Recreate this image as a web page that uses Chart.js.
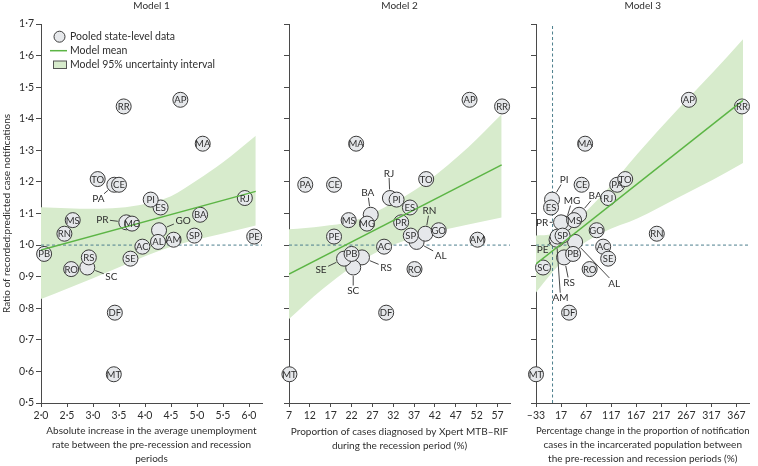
<!DOCTYPE html>
<html><head><meta charset="utf-8">
<script src="https://cdn.jsdelivr.net/npm/chart.js@4.4.1/dist/chart.umd.min.js"></script>
<style>
html,body{margin:0;padding:0;background:#fff;}
#wrap{position:relative;width:758px;height:466px;overflow:hidden;}
#wrap canvas{position:absolute;left:0;top:0;}
</style></head><body>
<div id="wrap">
<canvas id="c1" width="758" height="466"></canvas>
<canvas id="c2" width="758" height="466"></canvas>
<canvas id="c3" width="758" height="466"></canvas>
</div>
<script>
// ---------------- DATA ----------------
const states = ['AC','AL','AM','AP','BA','CE','DF','ES','GO','MA','MG','MS','MT','PA','PB','PE','PI','PR','RJ','RN','RO','RR','RS','SC','SE','SP','TO'];
const ratio = [0.995,1.010,1.017,1.460,1.096,1.191,0.786,1.119,1.047,1.321,1.068,1.079,0.591,1.191,0.972,1.027,1.144,1.072,1.149,1.036,0.924,1.439,0.961,0.929,0.957,1.030,1.209];
const unemploymentIncrease = [3.95,4.25,4.55,4.68,5.06,3.50,3.42,4.30,4.27,5.11,3.75,2.61,3.40,3.41,2.06,6.10,4.11,3.64,5.92,2.45,2.58,3.59,2.92,2.89,3.72,4.95,3.09];
const xpertProportion = [29.8,37.6,52.2,50.3,26.6,17.8,30.3,36.0,42.9,23.1,25.7,21.3,7.1,10.9,22.0,17.8,32.8,33.9,31.2,39.7,37.1,58.1,24.5,22.4,20.2,36.2,39.9];
const prisonChange = [101,45,8,272,53,58,33,-3,88,65,25,43,-33,129,41,10,-1,17,111,208,74,378,23,-19,111,20,145];

const yTicks = [0.5,0.6,0.7,0.8,0.9,1.0,1.1,1.2,1.3,1.4,1.5,1.6,1.7];
const xTicks1 = [2.0,2.5,3.0,3.5,4.0,4.5,5.0,5.5,6.0];
const xTicks2 = [7,12,17,22,27,32,37,42,47,52,57];
const xTicks3 = [-33,17,67,117,167,217,267,317,367];

// model mean and 95% uncertainty interval
const band1X = [2.0,2.5,3.0,3.5,4.0,4.5,5.0,5.5,6.13];
const band1Lower = [0.829,0.862,0.895,0.930,0.965,0.995,1.018,1.037,1.062];
const band1Upper = [1.120,1.117,1.115,1.118,1.130,1.155,1.205,1.262,1.346];
const mean1X = [2.0,6.13];
const mean1Y = [0.984,1.170];

const band2X = [7,15,22,30,40,50,58];
const band2Lower = [0.766,0.860,0.930,0.990,1.035,1.065,1.087];
const band2Upper = [1.050,1.060,1.075,1.120,1.200,1.310,1.414];
const mean2X = [7,58];
const mean2Y = [0.908,1.254];

const band3X = [-33,0,40,100,170,250,320,380];
const band3Lower = [0.850,0.915,0.980,1.040,1.085,1.150,1.207,1.260];
const band3Upper = [1.030,1.035,1.070,1.160,1.290,1.430,1.547,1.652];
const mean3X = [-33,380];
const mean3Y = [0.940,1.458];

const referenceRatio = 1.0;
const referenceChange = 0;

const panelTitles = ['Model 1','Model 2','Model 3'];
const xTitles = [
  ['Absolute increase in the average unemployment','rate between the pre-recession and recession','periods'],
  ['Proportion of cases diagnosed by Xpert MTB\u2013RIF','during the recession period (%)'],
  ['Percentage change in the proportion of notification','cases in the incarcerated population between','the pre-recession and recession periods (%)']
];
const yTitle = 'Ratio of recorded:predicted case notifications';
const legendLabels = ['Pooled state-level data','Model mean','Model 95% uncertainty interval'];

// ---------------- STYLE / LAYOUT ----------------
const FONT = 'Lato, "Open Sans", sans-serif';
const TXT = '#2e2e2e';
const AXIS = '#4a4a4a';
const GREEN = '#5cb545';
const BAND = 'rgb(215,235,204)';
const DASH = '#4d7f8d';
const CIRCLE_FILL = '#e6e8eb';
const CIRCLE_EDGE = '#3a3a3a';
const R = 8;

Chart.defaults.font.family = FONT;
Chart.defaults.color = TXT;

// label offsets (px) for states labelled outside their circle
const labelOffsets = [
  {PA:[-16,14], PR:[-24,-3], GO:[24,-10], SC:[24,9]},
  {RJ:[-1,-25], BA:[-3,-22], RN:[4,-23], AL:[24,13], SE:[-23,11], RS:[24,10], SC:[0,23]},
  {PI:[12,-20], MG:[7,-23], BA:[16,-19], PR:[-19,0], PE:[-15,13], AM:[4,58], RS:[5,25], AL:[39,41]}
];

const layouts = [
  {padL:0,   yW:41, padR:496, xMin:2.0, xMax:6.25, xTicks:xTicks1, fmt:v=>v.toFixed(1).replace('.','\u00b7'), titlePad:0},
  {padL:283, yW:6,  padR:248, xMin:7,   xMax:60,   xTicks:xTicks2, fmt:v=>String(v), titlePad:13},
  {padL:530, yW:6,  padR:3,   xMin:-33, xMax:393,  xTicks:xTicks3, fmt:v=>String(v).replace('-','\u2013'), titlePad:0}
];
const yFmt = v => v.toFixed(1).replace('.','\u00b7');

const statePlugin = {
  id:'stateLabels',
  afterDatasetsDraw(chart){
    const ctx = chart.ctx;
    ctx.save();
    chart.data.datasets.forEach((ds, di) => {
      if (!ds.isStates) return;
      const meta = chart.getDatasetMeta(di);
      meta.data.forEach((el, i) => {
        const s = ds.data[i].s;
        const off = ds.offsets[s];
        ctx.fillStyle = TXT;
        ctx.textAlign = 'center';
        ctx.textBaseline = 'middle';
        if (!off) {
          ctx.font = '9.5px ' + FONT;
          ctx.fillText(s, el.x, el.y + 0.5);
        } else {
          ctx.font = '10px ' + FONT;
          const lx = el.x + off[0], ly = el.y + off[1];
          const w = ctx.measureText(s).width;
          const L = Math.hypot(off[0], off[1]);
          const ux = off[0]/L, uy = off[1]/L;
          const t = Math.min((w/2+1.5)/Math.max(Math.abs(ux),1e-6), (5)/Math.max(Math.abs(uy),1e-6));
          ctx.strokeStyle = '#333';
          ctx.lineWidth = 0.9;
          ctx.beginPath();
          ctx.moveTo(el.x + ux*(R+0.5), el.y + uy*(R+0.5));
          ctx.lineTo(lx - ux*t, ly - uy*t);
          ctx.stroke();
          ctx.fillText(s, lx, ly + 0.5);
        }
      });
    });
    ctx.restore();
  }
};

const titlePlugin = {
  id:'panelTitle',
  afterDraw(chart){
    const ca = chart.chartArea, ctx = chart.ctx;
    ctx.save();
    ctx.font = '10px ' + FONT;
    ctx.fillStyle = TXT;
    ctx.textAlign = 'center';
    ctx.textBaseline = 'middle';
    ctx.fillText(chart.options.plugins.panelTitle.text, (ca.left+ca.right)/2, 6);
    ctx.restore();
  }
};

const legendPlugin = {
  id:'insideLegend',
  afterDraw(chart){
    const ca = chart.chartArea, ctx = chart.ctx;
    const x0 = ca.left, y0 = ca.top;
    ctx.save();
    ctx.font = '10.5px ' + FONT;
    ctx.fillStyle = TXT;
    ctx.textAlign = 'left';
    ctx.textBaseline = 'middle';
    ctx.beginPath();
    ctx.arc(x0+18.5, y0+12.7, 5.5, 0, Math.PI*2);
    ctx.fillStyle = CIRCLE_FILL; ctx.fill();
    ctx.strokeStyle = CIRCLE_EDGE; ctx.lineWidth = 1; ctx.stroke();
    ctx.fillStyle = TXT;
    ctx.fillText(legendLabels[0], x0+29, y0+12.7);
    ctx.beginPath();
    ctx.moveTo(x0+9, y0+26.7); ctx.lineTo(x0+26, y0+26.7);
    ctx.strokeStyle = GREEN; ctx.lineWidth = 1.5; ctx.stroke();
    ctx.fillText(legendLabels[1], x0+29, y0+26.7);
    ctx.fillStyle = BAND;
    ctx.fillRect(x0+12.5, y0+37, 13, 7.5);
    ctx.strokeStyle = '#555'; ctx.lineWidth = 1;
    ctx.strokeRect(x0+12.5, y0+37, 13, 7.5);
    ctx.fillStyle = TXT;
    ctx.fillText(legendLabels[2], x0+29, y0+40.7);
    ctx.restore();
  }
};

function pts(xs, ys){ return xs.map((x,i)=>({x:x, y:ys[i]})); }

function makeChart(idx, canvasId, xValues, bandX, bandLo, bandHi, meanX, meanY){
  const L = layouts[idx];
  const offs = labelOffsets[idx];
  const all = states.map((s,i)=>({x:xValues[i], y:ratio[i], s:s}));
  const behind = all.filter(p => offs[p.s]);
  const front = all.filter(p => !offs[p.s]);
  const circleStyle = {type:'scatter', pointRadius:R-0.5, pointHoverRadius:R-0.5, pointBackgroundColor:CIRCLE_FILL,
    pointBorderColor:CIRCLE_EDGE, pointBorderWidth:1, clip:false, isStates:true, offsets:offs, showLine:false};
  const datasets = [
    Object.assign({data:front, order:2}, circleStyle),
    Object.assign({data:behind, order:3}, circleStyle),
    {type:'line', data:pts(meanX, meanY), borderColor:GREEN, borderWidth:1.5, pointRadius:0, fill:false, order:1, tension:0},
    {type:'line', data:[{x:L.xMin,y:referenceRatio},{x:L.xMax,y:referenceRatio}], borderColor:DASH, borderWidth:1, borderDash:[3,2.5], pointRadius:0, fill:false, order:4},
    {type:'line', data:pts(bandX, bandLo), borderWidth:0, borderColor:'rgba(0,0,0,0)', pointRadius:0, fill:false, order:6, cubicInterpolationMode:'monotone'},
    {type:'line', data:pts(bandX, bandHi), borderWidth:0, borderColor:'rgba(0,0,0,0)', backgroundColor:BAND, pointRadius:0, fill:'-1', order:5, cubicInterpolationMode:'monotone'}
  ];
  if (idx === 2) {
    datasets.push({type:'line', data:[{x:referenceChange,y:yTicks[0]},{x:referenceChange,y:yTicks[yTicks.length-1]}], borderColor:DASH, borderWidth:1, borderDash:[3,2.5], pointRadius:0, fill:false, order:4});
  }
  const plugins = [statePlugin, titlePlugin];
  if (idx === 0) plugins.push(legendPlugin);
  return new Chart(document.getElementById(canvasId), {
    type:'scatter',
    data:{datasets},
    plugins,
    options:{
      responsive:false, animation:false, devicePixelRatio:1, events:[],
      layout:{padding:{left:L.padL, right:L.padR, top:24, bottom:0}},
      plugins:{legend:{display:false}, tooltip:{enabled:false}, panelTitle:{text:panelTitles[idx]}},
      scales:{
        x:{type:'linear', min:L.xMin, max:L.xMax,
          afterBuildTicks: s => { s.ticks = L.xTicks.map(v=>({value:v})); },
          afterFit: s => { s.height = 63; },
          ticks:{callback: v => L.fmt(v), font:{size:10.5}, color:TXT, padding:2, maxRotation:0, autoSkip:false},
          grid:{display:true, drawOnChartArea:false, drawTicks:true, tickLength:4, tickColor:AXIS},
          border:{display:true, color:AXIS, width:1},
          title:{display:true, text:xTitles[idx], color:TXT, font:{size:10, lineHeight:14/10}, padding:{top:0, bottom:L.titlePad}}
        },
        y:{type:'linear', min:yTicks[0], max:yTicks[yTicks.length-1],
          afterBuildTicks: s => { s.ticks = yTicks.map(v=>({value:v})); },
          afterFit: s => { s.width = L.yW; },
          ticks:{callback: v => idx===0 ? yFmt(v) : '', font:{size:10.5}, color:TXT, padding:2, autoSkip:false},
          grid:{display:true, drawOnChartArea:false, drawTicks:true, tickLength:5, tickColor:AXIS},
          border:{display:true, color:AXIS, width:1},
          title:{display: idx===0, text:yTitle, color:TXT, font:{size:10}, padding:{top:1,bottom:0}}
        }
      }
    }
  });
}

makeChart(0, 'c1', unemploymentIncrease, band1X, band1Lower, band1Upper, mean1X, mean1Y);
makeChart(1, 'c2', xpertProportion, band2X, band2Lower, band2Upper, mean2X, mean2Y);
makeChart(2, 'c3', prisonChange, band3X, band3Lower, band3Upper, mean3X, mean3Y);
</script>
</body></html>
